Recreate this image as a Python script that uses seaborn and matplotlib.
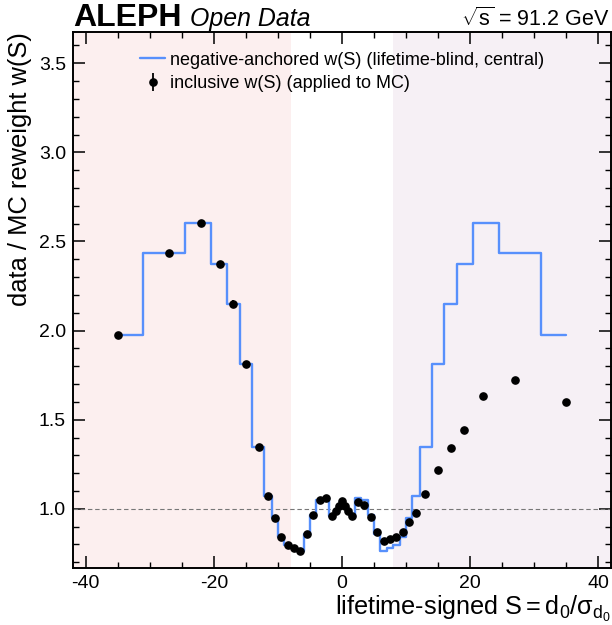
import matplotlib
matplotlib.use("Agg")
import matplotlib.pyplot as plt
import numpy as np
import pandas as pd
import seaborn as sns

# Bin centres of the lifetime-signed impact-parameter significance S
s_centres = [-35, -27, -22, -19, -17, -15, -13, -11.5, -10.5, -9.5, -8.5, -7.5,
             -6.5, -5.5, -4.5, -3.5, -2.5, -1.5, -1.0, -0.5, 0.0, 0.5, 1.0, 1.5,
             2.5, 3.5, 4.5, 5.5, 6.5, 7.5, 8.5, 9.5, 10.5, 11.5, 13, 15, 17, 19,
             22, 27, 35]

# Inclusive data/MC weight applied to MC
w_inclusive = [1.976, 2.435, 2.601, 2.373, 2.152, 1.812, 1.346, 1.073, 0.949, 0.841,
               0.795, 0.780, 0.762, 0.856, 0.963, 1.049, 1.063, 0.960, 0.990, 1.015,
               1.042, 1.015, 0.990, 0.958,
               1.039, 1.021, 0.955, 0.868, 0.822, 0.833, 0.841, 0.868, 0.924, 0.977,
               1.084, 1.217, 1.339, 1.440, 1.635, 1.721, 1.598]
w_inclusive_err = [0.008, 0.010, 0.014, 0.020, 0.018, 0.010, 0.008, 0.006, 0.005, 0.005,
                   0.005, 0.005, 0.005, 0.005, 0.005, 0.005, 0.005, 0.005, 0.005, 0.005,
                   0.005, 0.005, 0.005, 0.005,
                   0.005, 0.005, 0.005, 0.005, 0.005, 0.005, 0.005, 0.005, 0.005, 0.005,
                   0.006, 0.006, 0.006, 0.007, 0.008, 0.008, 0.008]

# Negative-anchored weight (lifetime-blind, central)
w_anchored = [1.976, 2.435, 2.601, 2.373, 2.152, 1.812, 1.346, 1.073, 0.949, 0.841,
              0.795, 0.780, 0.762, 0.856, 0.963, 1.049, 1.063, 0.960, 0.990, 1.015,
              1.042, 1.015, 0.990, 0.960,
              1.063, 1.049, 0.963, 0.856, 0.762, 0.780, 0.795, 0.841, 0.949, 1.073,
              1.346, 1.812, 2.152, 2.373, 2.601, 2.435, 1.976]

x_ticks = [-40, -20, 0, 20, 40]
y_ticks = [1.0, 1.5, 2.0, 2.5, 3.0, 3.5]

df = pd.DataFrame({"S": s_centres, "w_inc": w_inclusive,
                   "w_err": w_inclusive_err, "w_anchor": w_anchored})

sns.set_theme(style="ticks")
plt.rcParams.update({
    "font.family": ["Liberation Sans", "DejaVu Sans"],
    "mathtext.fontset": "custom",
    "mathtext.rm": "Liberation Sans",
    "mathtext.it": "Liberation Sans:italic",
    "mathtext.bf": "Liberation Sans:bold",
    "mathtext.default": "regular",
    "text.color": "black",
    "axes.labelcolor": "black",
    "axes.edgecolor": "black",
    "axes.linewidth": 1.4,
    "xtick.color": "black",
    "ytick.color": "black",
})

fig = plt.figure(figsize=(6.12, 6.25), dpi=100)
ax = fig.add_axes([73 / 612, 1 - 568.3 / 625, 538 / 612, 536 / 625])

ax.axvspan(-42, -8, color="#fcefef", lw=0, zorder=0)
ax.axvspan(8, 42, color="#f6f0f5", lw=0, zorder=0)
ax.axhline(1.0, color="#777777", lw=0.8, ls=(0, (4, 2.5)), zorder=1)

sns.lineplot(data=df, x="S", y="w_anchor", drawstyle="steps-mid", color="#5790fc",
             lw=1.7, estimator=None, sort=True, ax=ax, zorder=2,
             label="negative-anchored w(S) (lifetime-blind, central)")
ax.errorbar(df["S"], df["w_inc"], yerr=df["w_err"], fmt="o", color="black", ms=5.2,
            elinewidth=1.3, capsize=0, zorder=3,
            label="inclusive w(S) (applied to MC)")

ax.set_xlim(-42, 42)
ax.set_ylim(0.666, 3.674)
ax.set_xticks(x_ticks)
ax.set_xticklabels([str(t) for t in x_ticks])
ax.set_yticks(y_ticks)
ax.xaxis.set_minor_locator(matplotlib.ticker.MultipleLocator(5))
ax.yaxis.set_minor_locator(matplotlib.ticker.MultipleLocator(0.1))
ax.tick_params(which="both", direction="in", top=True, right=True, labelsize=14,
               color="black", labelcolor="black")
ax.tick_params(which="major", length=8.5, width=1.1, pad=5)
ax.tick_params(which="minor", length=4, width=1.0)

ax.set_xlabel(r"lifetime-signed $S = d_0/\sigma_{d_0}$", fontsize=18.2, loc="right",
              labelpad=1)
ax.set_ylabel("data / MC reweight w(S)", fontsize=18.4, loc="top", labelpad=5)

handles, labels = ax.get_legend_handles_labels()
ax.legend(handles, labels, loc="upper left", bbox_to_anchor=(0.1245, 0.964),
          frameon=False, fontsize=13, borderpad=0, borderaxespad=0,
          handlelength=1.4, handletextpad=0.25, labelspacing=0.38)

fig.text(73 / 612, 1 - 26 / 625, "ALEPH", fontsize=23, fontweight="bold",
         ha="left", va="baseline")
fig.text(190 / 612, 1 - 26 / 625, "Open Data", fontsize=17.9, style="italic",
         ha="left", va="baseline")
fig.text(609 / 612, 1 - 26 / 625, r"$\sqrt{s}$ = 91.2 GeV", fontsize=15.5,
         ha="right", va="baseline")

fig.savefig("out.png", dpi=100)
